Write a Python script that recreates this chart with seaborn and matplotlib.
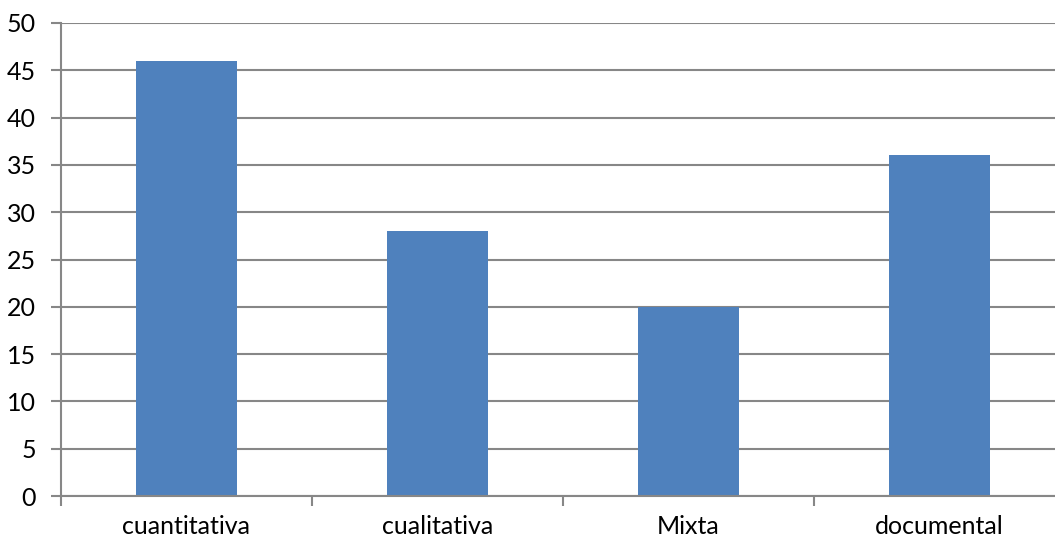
import matplotlib
matplotlib.use("Agg")
import matplotlib.pyplot as plt
import seaborn as sns
import pandas as pd
import numpy as np

categories = ["cuantitativa", "cualitativa", "Mixta", "documental"]
values = [46, 28, 20, 36]
y_ticks = list(range(0, 55, 5))

sns.set_theme(style="white")
plt.rcParams["font.family"] = ["Lato", "DejaVu Sans"]

df = pd.DataFrame({"tipo": categories, "n": values})

fig = plt.figure(figsize=(10.55, 5.43), dpi=100)
ax = fig.add_axes([61 / 1055, 47 / 543, 1004 / 1055, 473 / 543])

grid_color = "#878787"
ax.set_axisbelow(True)
for t in y_ticks:
    ax.axhline(t, color=grid_color, lw=1.5, zorder=0)

sns.barplot(data=df, x="tipo", y="n", color="#4F81BD", width=0.4,
            saturation=1, linewidth=0, ax=ax, zorder=2)

ax.set_xlim(-0.5, len(categories) - 0.5)
ax.set_ylim(0, 50)
ax.set_yticks(y_ticks)
ax.set_xlabel("")
ax.set_ylabel("")

# Category ticks sit on the boundaries between categories
ax.set_xticks(np.arange(len(categories) + 1) - 0.5, minor=False)
ax.set_xticklabels([])
ax.set_xticks(np.arange(len(categories)), minor=True)
ax.set_xticklabels(categories, minor=True, fontsize=18, color="black")
ax.tick_params(axis="x", which="major", direction="out", length=7,
               width=1.5, color=grid_color, bottom=True)
ax.tick_params(axis="x", which="minor", length=0, pad=14)
ax.tick_params(axis="y", direction="out", length=7, width=1.5,
               color=grid_color, left=True, labelsize=18, labelcolor="black",
               pad=11)

for side in ["top", "right"]:
    ax.spines[side].set_visible(False)
ax.spines["left"].set_color(grid_color)
ax.spines["left"].set_linewidth(1.5)
ax.spines["bottom"].set_color(grid_color)
ax.spines["bottom"].set_linewidth(1.5)

fig.savefig("out.png", dpi=100, facecolor="white")
